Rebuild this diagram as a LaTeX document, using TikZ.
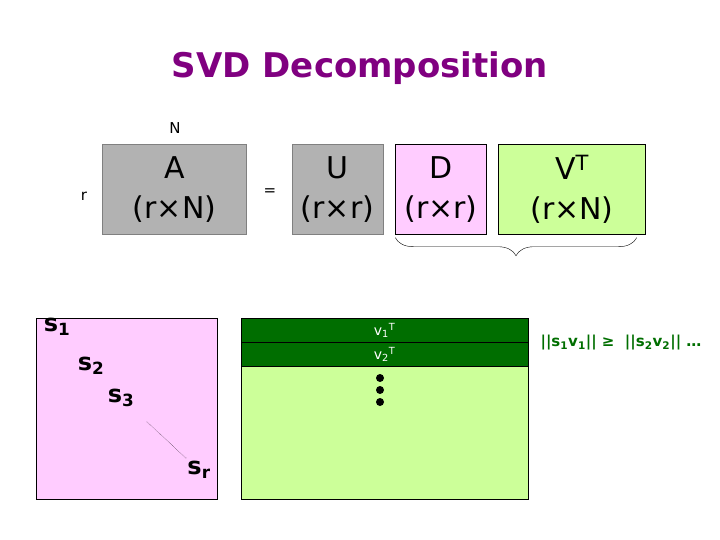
\documentclass[tikz,border=0pt]{standalone}
\usepackage{fontspec}
\setmainfont{DejaVu Sans}
\usepackage{tikz}
\usetikzlibrary{positioning, calc, decorations.pathreplacing}
\usepackage{xcolor}
\definecolor{mpurple}{RGB}{128,0,128}
\definecolor{mgray}{RGB}{178,178,178}
\definecolor{mpink}{RGB}{255,204,255}
\definecolor{mlgreen}{RGB}{204,255,153}
\definecolor{mdgreen}{RGB}{0,110,0}

\begin{document}
\begin{tikzpicture}[x=1pt,y=-1pt,
  mat/.style={draw,align=center,inner sep=0pt,minimum height=90pt,
    font=\fontsize{30}{40}\selectfont},
  lbl/.style={font=\fontsize{15}{16}\selectfont},
  sv/.style={font=\bfseries\fontsize{24}{26}\selectfont},
  vrow/.style={draw=black,fill=mdgreen,text=white,minimum width=287pt,
    inner sep=0pt,font=\fontsize{14}{14}\selectfont}
]
  \useasboundingbox (0,0) rectangle (720,540);
  \node[font=\bfseries\fontsize{34}{40}\selectfont,mpurple] (title) at (360,68) {SVD Decomposition};

  % top row: A = U D V^T
  \node[mat,fill=mgray,draw=gray,minimum width=144pt] (A) at (174.5,189.5) {A\\(r×N)};
  \node[lbl] (nlbl) at (175,128) {N};
  \node[lbl] (rlbl) at (84,196) {r};
  \node[lbl] (eq) at (270,192) {=};
  \node[mat,fill=mgray,draw=gray,minimum width=91pt] (U) at (337.5,189.5) {U\\(r×r)};
  \node[mat,fill=mpink,minimum width=91pt] (D) at (441,189.5) {D\\(r×r)};
  \node[mat,fill=mlgreen,minimum width=147pt] (VT) at (572,189.5) {V\textsuperscript{T}\\(r×N)};
  \draw[decorate,decoration={brace,mirror,amplitude=18pt},thin]
    ($(D.south west)+(0,3)$) -- ($(VT.south east)+(-9,3)$);

  % diagonal of D
  \node[draw,fill=mpink,minimum width=181pt,minimum height=181pt] (Dbig) at (126.5,408.5) {};
  \node[sv] (s1) at (57,327) {s\textsubscript{1}};
  \node[sv] (s2) at (91,366) {s\textsubscript{2}};
  \node[sv] (s3) at (121,398) {s\textsubscript{3}};
  \node[sv] (sr) at (199,470) {s\textsubscript{r}};
  \draw[densely dotted] ($(s3)!0.33!(sr)$) -- ($(sr)!0.16!(s3)$);

  % rows of V^T
  \node[draw,fill=mlgreen,minimum width=287pt,minimum height=181pt] (Vbig) at (384.5,408.5) {};
  \node[vrow,minimum height=24.5pt] (v1) at (384.5,330.25) {v\textsubscript{1}\textsuperscript{T}};
  \node[vrow,minimum height=24pt] (v2) at (384.5,354.5) {v\textsubscript{2}\textsuperscript{T}};
  \foreach \y in {378,390,402}
    \fill (380,\y) circle (4pt);
  \node[anchor=west,text=mdgreen,font=\bfseries\fontsize{15}{16}\selectfont] (norm) at (537,343)
    {||s\textsubscript{1}v\textsubscript{1}|| ≥ \ ||s\textsubscript{2}v\textsubscript{2}|| …};
\end{tikzpicture}
\end{document}
